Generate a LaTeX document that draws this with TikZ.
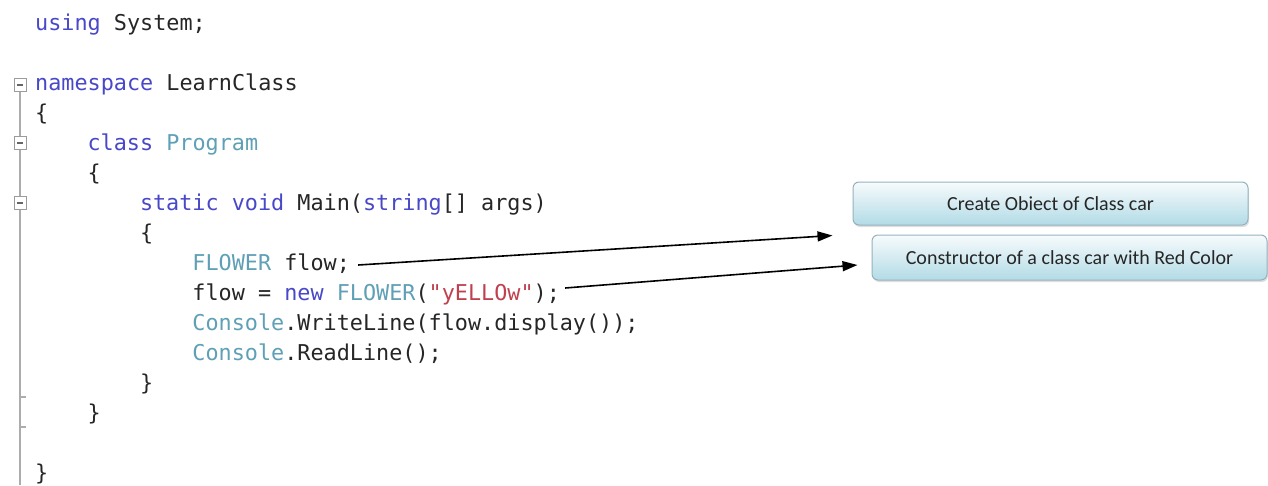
\documentclass[tikz,border=0pt]{standalone}
\usepackage{fontspec}
\setmainfont{Carlito}
\setmonofont{DejaVu Sans Mono}
\usetikzlibrary{arrows.meta,shadows}

\definecolor{kwblue}{RGB}{72,72,200}
\definecolor{typeteal}{RGB}{95,160,182}
\definecolor{strred}{RGB}{192,64,78}
\definecolor{plain}{RGB}{38,38,38}
\definecolor{gutter}{RGB}{172,172,172}
\definecolor{boxtop}{RGB}{247,251,252}
\definecolor{boxbot}{RGB}{178,219,230}
\definecolor{boxrim}{RGB}{148,178,190}

\newcommand\ckw[1]{\textcolor{kwblue}{#1}}
\newcommand\cty[1]{\textcolor{typeteal}{#1}}
\newcommand\cstr[1]{\textcolor{strred}{#1}}

\begin{document}
\begin{tikzpicture}[x=1pt,y=-1pt,
  code/.style={anchor=base west, inner sep=0pt,
    font=\ttfamily\fontsize{21.8}{30}\selectfont, text=plain},
  note/.style={draw=boxrim, line width=1pt, rounded corners=6pt,
    top color=boxtop, bottom color=boxbot,
    drop shadow={shadow xshift=1pt, shadow yshift=-2pt, opacity=0.25},
    minimum width=395pt, inner sep=0pt,
    font=\fontsize{20}{24}\selectfont, text=plain},
  fold/.style={draw=gutter!90!black, line width=0.9pt, fill=white,
    minimum width=12pt, minimum height=13pt, inner sep=0pt},
  gutline/.style={draw=gutter, line width=1.6pt},
  arr/.style={draw=black, line width=1.6pt,
    -{Triangle[length=15pt,width=10pt]}}
]
\fill[white] (0,0) rectangle (1268,485);
\useasboundingbox (0,0) rectangle (1268,485);

% outlining gutter with fold markers
\node[fold] (f1) at (20,85) {};
\node[fold] (f2) at (20,143) {};
\node[fold] (f3) at (20,203) {};
\foreach \f in {f1,f2,f3}
  \draw[line width=1.2pt, gray!80!black] ([xshift=3pt]\f.west) -- ([xshift=-3pt]\f.east);
\coordinate (gbot) at (20,485);
\coordinate (k1) at (20,397);
\coordinate (k2) at (20,427);
\draw[gutline] (f1.south) -- (f2.north);
\draw[gutline] (f2.south) -- (f3.north);
\draw[gutline] (f3.south) -- (gbot);
\draw[gutline, line width=1.2pt] (k1) -- ++(6,0);
\draw[gutline, line width=1.2pt] (k2) -- ++(6,0);

% source lines
\node[code] (l0)  at (35,30)    {\ckw{using} System;};
\node[code] (l2)  at (35,90)    {\ckw{namespace} LearnClass};
\node[code] (l3)  at (35,120)   {\{};
\node[code] (l4)  at (87.4,150) {\ckw{class} \cty{Program}};
\node[code] (l5)  at (87.4,180) {\{};
\node[code] (l6)  at (139.8,210) {\ckw{static} \ckw{void} Main(\ckw{string}[] args)};
\node[code] (l7)  at (139.8,240) {\{};
\node[code] (l8)  at (192.2,270) {\cty{FLOWER} flow;};
\node[code] (l9)  at (192.2,300) {flow = \ckw{new} \cty{FLOWER}(\cstr{"yELLOw"});};
\node[code] (l10) at (192.2,330) {\cty{Console}.WriteLine(flow.display());};
\node[code] (l11) at (192.2,360) {\cty{Console}.ReadLine();};
\node[code] (l12) at (139.8,390) {\}};
\node[code] (l13) at (87.4,420)  {\}};
\node[code] (l15) at (35,480)    {\}};

% explanation boxes
\node[note, minimum height=43pt] (b1) at (1050.5,203.5) {Create Obiect of Class car};
\node[note, minimum height=45pt] (b2) at (1069.5,257.5) {Constructor of a class car with Red Color};

% arrows from the statements to the boxes
\coordinate (t1) at ([xshift=-20pt,yshift=-10pt]b1.south west);
\coordinate (t2) at ([xshift=-14pt,yshift=-7.5pt]b2.west);
\draw[arr] ([xshift=8pt,yshift=5pt]l8.base east) -- (t1);
\draw[arr] ([xshift=5pt,yshift=12pt]l9.base east) -- (t2);
\end{tikzpicture}
\end{document}
